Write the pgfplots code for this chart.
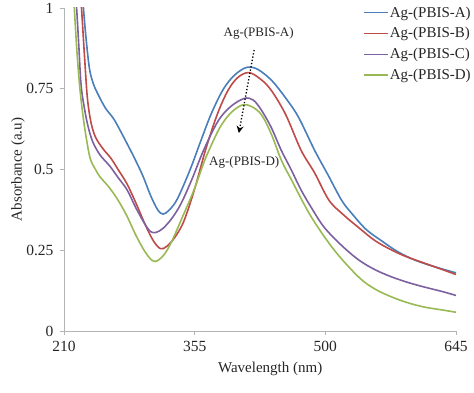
\documentclass[border=0pt]{standalone}
\usepackage{pgfplots}
\pgfplotsset{compat=1.18}
\usepackage{fontspec}
\setmainfont{Liberation Serif}
\usetikzlibrary{arrows.meta}
\definecolor{cA}{HTML}{4A7EBB}
\definecolor{cB}{HTML}{BE4B48}
\definecolor{cC}{HTML}{7D60A0}
\definecolor{cD}{HTML}{98B954}
\definecolor{axgray}{HTML}{B4B4B4}
\begin{document}
\begin{tikzpicture}[x=1pt,y=1pt]
\path[use as bounding box] (0,0) rectangle (474,393);
\begin{axis}[
  at={(64pt,62pt)}, anchor=south west,
  scale only axis, width=392pt, height=323pt,
  xmin=210, xmax=645, ymin=0, ymax=1,
  axis x line*=bottom, axis y line*=left,
  axis line style={draw=axgray, line width=0.8pt, -},
  tick style={draw=axgray, line width=0.8pt},
  tick align=outside, major tick length=4pt,
  xtick={210,355,500,645}, xticklabels={210,355,500,645},
  ytick={0,0.25,0.5,0.75,1}, yticklabels={0,0.25,0.5,0.75,1},
  ticklabel style={font=\fontsize{15.5}{18}\selectfont, text=black!85},
  xticklabel style={yshift=-3pt},
  yticklabel style={xshift=-3pt},
  xlabel={Wavelength (nm)}, ylabel={Absorbance (a.u)},
  label style={font=\fontsize{15}{18}\selectfont, text=black!85},
  xlabel style={at={(axis description cs:0.526,-0.118)}, anchor=center},
  ylabel style={at={(axis description cs:-0.117,0.5)}, anchor=center, rotate=0},
  legend style={at={(axis description cs:0.763,1.008)}, anchor=north west,
    draw=none, fill=none, font=\fontsize{15}{18}\selectfont, text=black!85,
    row sep=7pt, inner sep=0pt, nodes={inner sep=1pt}},
  legend cell align=left,
  legend image code/.code={\draw[#1, line width=1.6pt] (0pt,0pt) -- (24pt,0pt);},
  every axis plot/.append style={line width=1.6pt, smooth, tension=0.55},
  clip=true,
]
\addplot[cA] coordinates {
(229.5,1.08) (231,1.02) (234,0.92) (238,0.817) (242,0.77) (247,0.737) (256,0.69) (266,0.653) (280,0.58) (290,0.525) (298,0.477) (306,0.42) (314,0.375) (320,0.362) (327,0.375) (336,0.41) (350,0.50) (362,0.59) (373,0.67) (385,0.74) (395,0.78) (405,0.805) (414,0.817) (425,0.81) (440,0.777) (455,0.725) (470,0.663) (488,0.56) (503,0.483) (518,0.405) (529,0.365) (545,0.315) (562,0.28) (580,0.246) (599,0.22) (620,0.2) (645,0.18)
};
\addlegendentry{Ag-(PBIS-A)}
\addplot[cB] coordinates {
(227.5,1.08) (229,1.02) (233,0.84) (236,0.72) (240,0.645) (245,0.6) (253,0.565) (262,0.535) (270,0.5) (280,0.455) (290,0.395) (300,0.33) (309,0.28) (317,0.255) (324,0.262) (333,0.29) (343,0.34) (355,0.44) (367,0.56) (380,0.67) (392,0.745) (403,0.785) (415,0.80) (428,0.78) (440,0.745) (456,0.67) (473,0.56) (488,0.49) (504,0.405) (520,0.36) (537,0.32) (555,0.28) (574,0.25) (590,0.23) (610,0.21) (645,0.175)
};
\addlegendentry{Ag-(PBIS-B)}
\addplot[cC] coordinates {
(222,1.08) (224,1.0) (226.5,0.88) (229,0.76) (233,0.684) (237,0.63) (242,0.585) (250,0.545) (261,0.51) (270,0.475) (280,0.437) (290,0.38) (300,0.33) (306,0.308) (312,0.305) (320,0.318) (330,0.35) (340,0.395) (352,0.47) (365,0.56) (381,0.65) (395,0.695) (410,0.72) (420,0.715) (429,0.684) (440,0.63) (451,0.56) (462,0.50) (473,0.437) (486,0.375) (499,0.32) (518,0.265) (537,0.22) (555,0.19) (574,0.167) (592,0.15) (610,0.136) (630,0.122) (645,0.11)
};
\addlegendentry{Ag-(PBIS-C)}
\addplot[cD] coordinates {
(219.5,1.08) (221,1.02) (224,0.88) (227,0.77) (230,0.69) (234,0.61) (239,0.535) (245,0.5) (250,0.477) (260,0.445) (270,0.405) (280,0.355) (290,0.295) (300,0.245) (308,0.218) (314,0.218) (322,0.24) (330,0.28) (341,0.35) (354,0.435) (365,0.52) (371,0.56) (383,0.63) (395,0.675) (408,0.70) (418,0.695) (429,0.67) (440,0.61) (451,0.53) (462,0.47) (484,0.355) (510,0.25) (537,0.167) (555,0.13) (574,0.105) (592,0.087) (610,0.074) (630,0.065) (645,0.058)
};
\addlegendentry{Ag-(PBIS-D)}
\node[font=\fontsize{13}{15}\selectfont, text=black!85] at (axis cs:426,0.922) {Ag-(PBIS-A)};
\node[font=\fontsize{13}{15}\selectfont, text=black!85] at (axis cs:410,0.523) {Ag-(PBIS-D)};
\draw[black, line width=1.3pt, dotted, -{Stealth[length=7pt,width=7pt,open]}] (axis cs:421,0.87) -- (axis cs:404,0.613);
\end{axis}
\end{tikzpicture}
\end{document}
